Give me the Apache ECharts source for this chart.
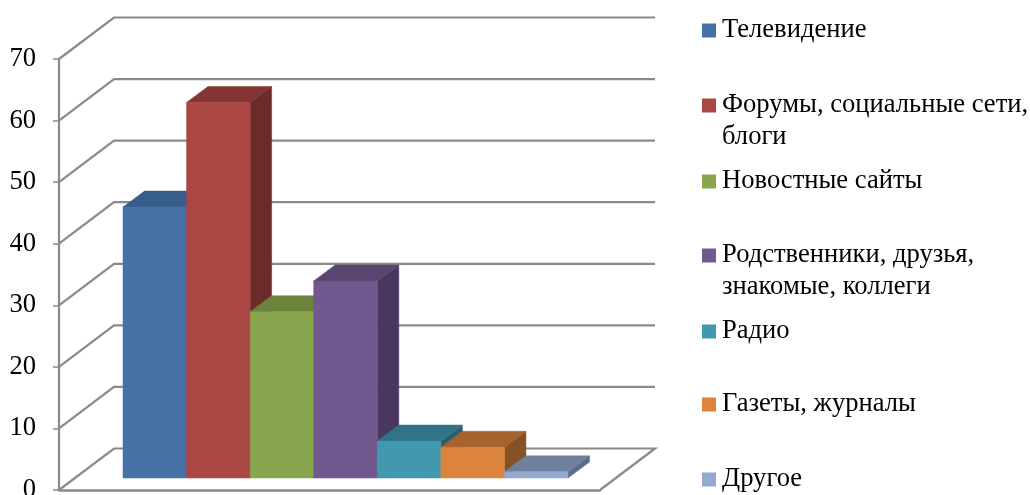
<!DOCTYPE html>
<html><head><meta charset="utf-8">
<style>html,body{margin:0;padding:0;background:#fff}#c{width:1030px;height:495px}</style>
<script src="https://cdn.jsdelivr.net/npm/echarts@6/dist/echarts.min.js"></script>
</head><body><div id="c"></div>
<script>
const categories = ['Телевидение','Форумы, социальные сети, блоги','Новостные сайты','Родственники, друзья, знакомые, коллеги','Радио','Газеты, журналы','Другое'];
const values = [44, 61, 27, 32, 6, 5, 1];
const firstLines = ['Телевидение','Форумы, социальные сети,','Новостные сайты','Родственники, друзья,','Радио','Газеты, журналы','Другое'];
const secondLines = ['', 'блоги', '', 'знакомые, коллеги', '', '', ''];
const gridTicks = [0,10,20,30,40,50,60,70];
const frontColors = ['#4472A6','#AA4643','#89A54E','#71588F','#4198AF','#DB843D','#93A9CF'];
const topColors   = ['#375D8A','#843533','#6C823D','#594570','#2F7587','#A6632E','#6F7F9E'];
const sideColors  = ['#2E4D72','#6C2B2A','#58692F','#49385D','#27606F','#875127','#5B6D8A'];
const legendCenters = [29,104,180,254,330,403,478];

const FONT = '"Liberation Serif"';
const FS = 26.6;
const GRAY = '#8A8A8A';
const WALL = [55, -41.5];
const BAR = [21.5, -16];

const chart = echarts.init(document.getElementById('c'), null, {renderer:'canvas'});

function renderWall(params, api){
  const cs = params.coordSys;
  const v = api.value(0);
  const y = api.coord([0, v])[1];
  const x0 = cs.x, x1 = cs.x + WALL[0], x2 = cs.x + cs.width + WALL[0], y1 = y + WALL[1];
  const pts = [[x0,y],[x1,y1],[x2,y1]];
  if (v === 0) pts.push([cs.x + cs.width, y]);
  return {type:'polyline', shape:{points:pts}, style:{fill:null, stroke:GRAY, lineWidth:2.2}, silent:true};
}

function renderBar(idx){
  return function(params, api){
    const band = api.size([1,0])[0];
    const p = api.coord([api.value(0), api.value(1)]);
    const b = api.coord([api.value(0), 0]);
    const l = p[0]-band/2, r = p[0]+band/2, t = p[1], m = b[1];
    const dx = BAR[0], dy = BAR[1];
    const poly = (pts, fill, stroke) => ({type:'polygon', shape:{points:pts}, style:{fill, stroke:stroke||fill, lineWidth:0.5}});
    return {type:'group', children:[
      poly([[r,t],[r+dx,t+dy],[r+dx,m+dy],[r,m]], sideColors[idx]),
      poly([[l,t],[l+dx,t+dy],[r+dx,t+dy],[r,t]], topColors[idx]),
      poly([[l,t],[r,t],[r,m],[l,m]], frontColors[idx])
    ]};
  };
}

const barSeries = categories.map((name,i)=>({
  type:'custom', name, xAxisIndex:1, yAxisIndex:1, z:3+i, clip:false,
  itemStyle:{color:frontColors[i]},
  encode:{x:0,y:1},
  data:[[i, values[i]]],
  renderItem:renderBar(i), silent:true
}));

const legends = categories.map((name,i)=>({
  data:[{name, icon:'rect'}], left:702, top:legendCenters[i]-15, padding:0,
  itemWidth:14, itemHeight:14, selectedMode:false, orient:'vertical',
  formatter:()=>firstLines[i],
  textStyle:{fontFamily:FONT, fontSize:FS, color:'#000', lineHeight:30, padding:[3,0,0,1]}
}));

const extra = secondLines.filter(s=>s).map((t,k)=>({
  type:'text', left:722, top:[137,287][k]-15,
  style:{text:t, font:FS+'px '+FONT, fill:'#000', lineHeight:30}
}));

chart.setOption({
  animation:false, backgroundColor:'#fff',
  grid:[
    {left:59, top:59, width:541, height:431, outerBoundsMode:'none'},
    {left:123, top:47, width:445, height:431, outerBoundsMode:'none'}
  ],
  xAxis:[
    {type:'category', gridIndex:0, data:categories, axisLabel:{show:false}, axisTick:{show:false},
     axisLine:{lineStyle:{color:GRAY,width:2.5}}},
    {type:'category', gridIndex:1, data:categories, show:false}
  ],
  yAxis:[
    {type:'value', gridIndex:0, min:0, max:70, interval:10, splitLine:{show:false},
     axisLine:{show:true, lineStyle:{color:GRAY,width:2.2}},
     axisTick:{show:true, length:6, lineStyle:{color:GRAY,width:1.5}},
     axisLabel:{fontFamily:FONT, fontSize:FS, color:'#000', margin:23}},
    {type:'value', gridIndex:1, min:0, max:70, interval:10, show:false}
  ],
  legend:legends,
  graphic:extra,
  series:[{
    type:'custom', name:'walls', xAxisIndex:0, yAxisIndex:0, z:1, clip:false, silent:true,
    encode:{y:0}, data:gridTicks.map(v=>[v]), renderItem:renderWall
  }].concat(barSeries)
});
</script></body></html>
